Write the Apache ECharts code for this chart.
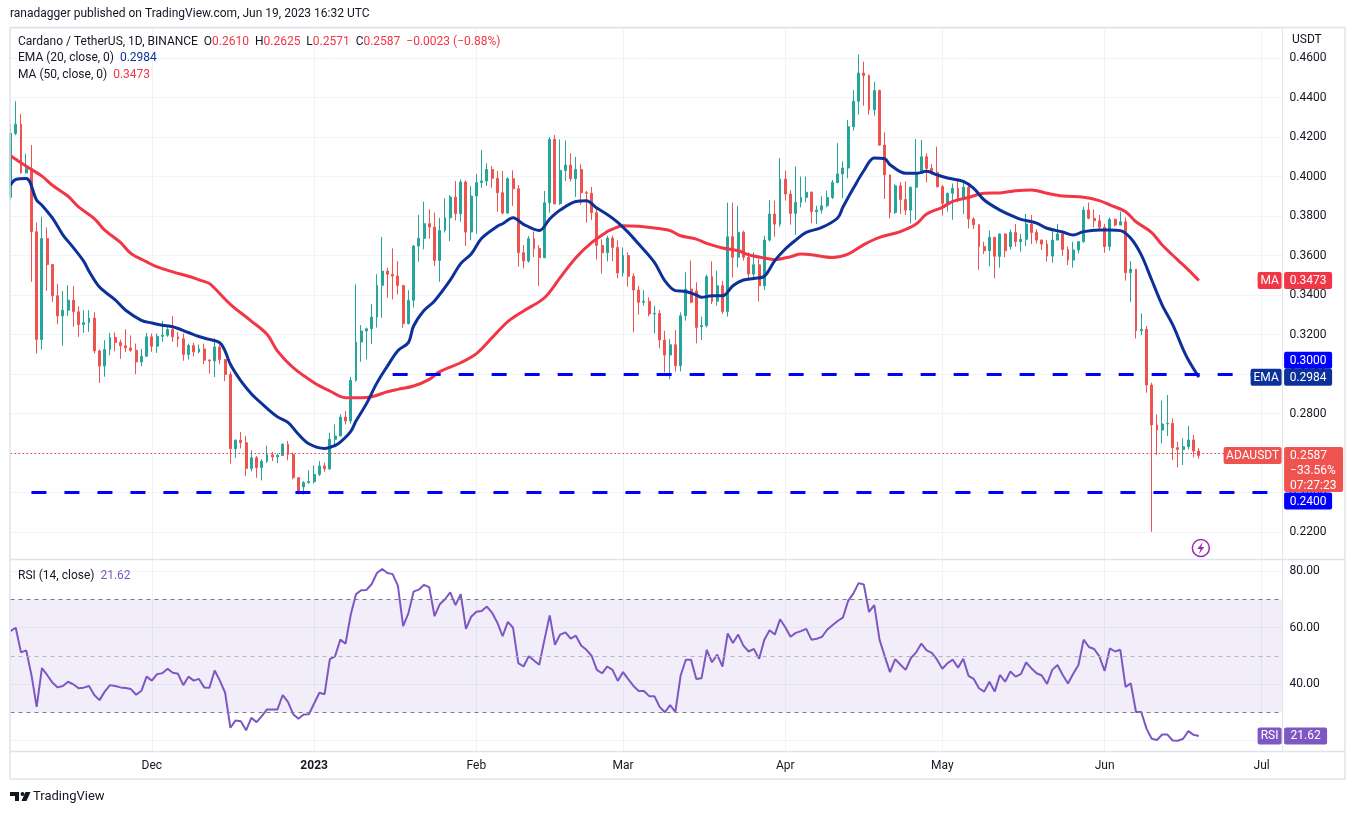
<!DOCTYPE html>
<html><head><meta charset="utf-8">
<script src="https://cdn.jsdelivr.net/npm/echarts@6/dist/echarts.min.js"></script>
<style>html,body{margin:0;padding:0;background:#fff}#c{width:1355px;height:814px}</style>
</head><body><div id="c"></div><script>
// ---------------- data ----------------
const firstDay = [2022, 10, 4];   // 2022-11-04 (UTC, month 0-based)
const axisDays = 244;             // category slots on the time axis (to 2023-07-05)

const open = [
.3894,.4218,.4265,.4018,.4040,.3720,.3175,.3686,.3554,.3396,
.3294,.3323,.3374,.3315,.3250,.3260,.3283,.3117,.3040,.3124,
.3185,.3160,.3143,.3132,.3120,.3061,.3090,.3188,.3141,.3191,
.3196,.3225,.3188,.3178,.3099,.3144,.3112,.3127,.3070,.3066,
.3137,.3073,.2998,.2622,.2664,.2652,.2522,.2576,.2526,.2558,
.2590,.2580,.2588,.2644,.2593,.2475,.2428,.2450,.2455,.2492,
.2534,.2520,.2669,.2686,.2782,.2762,.2968,.3162,.3218,.3229,
.3288,.3449,.3521,.3505,.3496,.3448,.3255,.3373,.3648,.3687,
.3761,.3744,.3575,.3727,.3791,.3896,.3812,.3972,.3719,.3901,
.3969,.3977,.4036,.3991,.3918,.3815,.3989,.3938,.3614,.3572,
.3685,.3635,.3589,.3867,.4188,.3862,.4031,.4058,.3989,.4036,
.3918,.3915,.3817,.3651,.3614,.3688,.3641,.3512,.3600,.3495,
.3425,.3363,.3368,.3304,.3307,.3172,.3096,.3148,.3042,.3295,
.3430,.3420,.3239,.3245,.3493,.3368,.3447,.3317,.3695,.3591,
.3717,.3591,.3506,.3553,.3447,.3678,.3810,.3759,.3987,.3911,
.3813,.3869,.3894,.3920,.3822,.3830,.3852,.3894,.3970,.4013,
.4043,.4252,.4381,.4524,.4511,.4338,.4435,.4159,.4008,.3818,
.3953,.3883,.3830,.3945,.4016,.4100,.4041,.4021,.3948,.3864,
.3915,.3940,.3886,.3945,.3785,.3756,.3645,.3624,.3692,.3596,
.3709,.3645,.3716,.3670,.3682,.3759,.3716,.3678,.3658,.3597,
.3678,.3709,.3631,.3577,.3628,.3670,.3830,.3788,.3776,.3743,
.3645,.3783,.3754,.3771,.3513,.3530,.3219,.3226,.2944,.2742,
.2716,.2747,.2750,.2627,.2618,.2632,.2666,.2610];
const close = [
.4218,.4265,.4018,.4040,.3720,.3175,.3686,.3554,.3396,.3294,
.3323,.3374,.3315,.3250,.3260,.3283,.3117,.3040,.3124,.3185,
.3160,.3143,.3132,.3120,.3061,.3090,.3188,.3141,.3191,.3196,
.3225,.3188,.3178,.3099,.3144,.3112,.3127,.3070,.3066,.3137,
.3073,.2998,.2622,.2664,.2652,.2522,.2576,.2526,.2558,.2590,
.2580,.2588,.2644,.2593,.2475,.2400,.2450,.2455,.2492,.2534,
.2520,.2669,.2686,.2782,.2762,.2968,.3162,.3218,.3229,.3288,
.3449,.3521,.3505,.3496,.3448,.3255,.3373,.3648,.3687,.3761,
.3744,.3575,.3727,.3791,.3896,.3812,.3972,.3719,.3901,.3969,
.3977,.4036,.3991,.3918,.3815,.3989,.3938,.3614,.3572,.3685,
.3635,.3589,.3867,.4188,.3862,.4031,.4058,.3989,.4036,.3918,
.3915,.3817,.3651,.3614,.3688,.3641,.3512,.3600,.3495,.3425,
.3363,.3368,.3304,.3307,.3172,.3096,.3148,.3042,.3295,.3430,
.3363,.3236,.3245,.3493,.3368,.3447,.3317,.3695,.3591,.3717,
.3591,.3506,.3553,.3447,.3678,.3810,.3759,.3987,.3911,.3813,
.3869,.3894,.3920,.3822,.3830,.3852,.3894,.3970,.4013,.4043,
.4252,.4381,.4524,.4511,.4338,.4435,.4159,.4008,.3818,.3953,
.3883,.3830,.3945,.4016,.4100,.4041,.4021,.3948,.3864,.3915,
.3940,.3886,.3945,.3785,.3756,.3645,.3624,.3692,.3596,.3709,
.3624,.3716,.3670,.3682,.3759,.3716,.3678,.3658,.3597,.3678,
.3709,.3631,.3577,.3628,.3670,.3830,.3788,.3776,.3743,.3645,
.3783,.3754,.3771,.3513,.3530,.3219,.3226,.2944,.2742,.2716,
.2747,.2750,.2627,.2618,.2632,.2666,.2610,.2587];
const low = [
.3880,.4209,.4015,.4015,.3467,.3104,.3124,.3421,.3365,.3252,
.3143,.3294,.3239,.3188,.3208,.3213,.3104,.2955,.2986,.3095,
.3115,.3077,.3112,.3112,.2999,.3039,.3087,.3112,.3107,.3163,
.3188,.3163,.3137,.3067,.3073,.3090,.3104,.3050,.3002,.2985,
.3049,.2964,.2546,.2576,.2623,.2483,.2507,.2475,.2461,.2550,
.2559,.2549,.2585,.2563,.2467,.2390,.2389,.2444,.2446,.2483,
.2505,.2513,.2635,.2686,.2745,.2748,.2961,.3062,.3074,.3153,
.3235,.3285,.3386,.3378,.3403,.3234,.3251,.3336,.3569,.3631,
.3685,.3547,.3467,.3716,.3673,.3778,.3771,.3648,.3677,.3710,
.3943,.3952,.3943,.3822,.3808,.3812,.3851,.3543,.3535,.3564,
.3592,.3445,.3586,.3817,.3859,.3856,.3977,.3974,.3896,.3856,
.3766,.3780,.3580,.3508,.3570,.3571,.3484,.3493,.3442,.3211,
.3300,.3346,.3292,.3206,.3130,.3008,.2974,.3013,.3013,.3270,
.3358,.3155,.3172,.3236,.3354,.3346,.3304,.3290,.3489,.3540,
.3574,.3484,.3489,.3368,.3425,.3671,.3695,.3746,.3878,.3756,
.3705,.3844,.3869,.3763,.3759,.3813,.3844,.3886,.3965,.3891,
.3991,.4232,.4313,.4359,.4313,.4308,.4156,.3886,.3788,.3810,
.3810,.3805,.3763,.3780,.4013,.3970,.4009,.3945,.3802,.3822,
.3781,.3869,.3810,.3737,.3734,.3528,.3607,.3545,.3484,.3538,
.3591,.3631,.3645,.3619,.3648,.3658,.3661,.3628,.3569,.3564,
.3678,.3597,.3552,.3538,.3611,.3665,.3783,.3743,.3726,.3614,
.3624,.3749,.3754,.3473,.3366,.3180,.3197,.2905,.2201,.2590,
.2649,.2686,.2564,.2527,.2539,.2618,.2578,.2571];
const high = [
.4268,.4381,.4316,.4116,.4159,.3767,.3796,.3742,.3556,.3455,
.3420,.3450,.3445,.3343,.3323,.3323,.3313,.3124,.3171,.3208,
.3210,.3174,.3227,.3195,.3154,.3127,.3208,.3205,.3205,.3269,
.3247,.3293,.3213,.3205,.3154,.3158,.3150,.3154,.3075,.3180,
.3150,.3076,.3012,.2669,.2706,.2686,.2613,.2585,.2568,.2637,
.2605,.2597,.2649,.2661,.2602,.2478,.2458,.2512,.2537,.2559,
.2551,.2703,.2745,.2796,.2812,.2985,.3454,.3248,.3235,.3353,
.3505,.3694,.3538,.3636,.3572,.3451,.3424,.3653,.3805,.3873,
.3834,.3817,.3791,.3889,.3906,.3977,.3986,.3981,.3952,.4014,
.4134,.4067,.4053,.4028,.4028,.3997,.4031,.3957,.3653,.3699,
.3721,.3653,.3927,.4200,.4210,.4188,.4183,.4117,.4099,.4062,
.3927,.3947,.3842,.3682,.3700,.3700,.3678,.3641,.3616,.3510,
.3447,.3425,.3388,.3346,.3324,.3219,.3177,.3222,.3312,.3515,
.3575,.3464,.3290,.3503,.3570,.3523,.3472,.3868,.3868,.3852,
.3726,.3616,.3616,.3582,.3700,.3881,.3878,.4094,.4029,.3932,
.4050,.4000,.4000,.3925,.3852,.3900,.3928,.3982,.4169,.4077,
.4286,.4438,.4617,.4581,.4516,.4480,.4440,.4224,.4010,.3962,
.3970,.3975,.3950,.4190,.4185,.4117,.4063,.4151,.3957,.3918,
.3965,.3982,.3970,.3965,.3793,.3759,.3670,.3726,.3695,.3712,
.3712,.3732,.3759,.3709,.3810,.3805,.3732,.3682,.3678,.3732,
.3759,.3712,.3645,.3670,.3673,.3847,.3868,.3834,.3805,.3760,
.3793,.3788,.3822,.3793,.3572,.3530,.3307,.3243,.2956,.2796,
.2865,.2894,.2775,.2657,.2674,.2737,.2691,.2625];

const rsi = [
58.7,59.9,51.2,51.9,43.2,31.9,45.6,43.2,40.5,38.8,
39.3,40.8,39.9,38.5,38.7,39.3,36.1,34.3,37.3,39.6,
39.3,38.8,38.6,38.2,36.2,37.6,42.6,41.2,43.5,43.8,
45.4,44.0,43.6,39.6,42.6,41.2,41.8,38.8,38.7,44.8,
41.2,36.9,24.5,27.1,26.8,23.6,28.0,26.5,28.6,31.0,
31.0,31.0,36.1,33.7,29.3,27.7,29.2,29.3,33.1,36.9,
36.4,48.8,49.8,55.7,54.3,64.6,71.8,73.2,73.3,75.4,
79.3,80.7,79.3,78.9,74.8,60.5,65.0,72.7,73.4,75.1,
74.2,64.0,68.2,70.0,72.4,67.9,71.8,59.5,63.8,65.6,
65.8,67.4,65.2,61.7,56.9,62.0,59.9,47.4,46.2,49.8,
48.3,46.8,55.7,64.3,53.9,57.5,58.3,56.1,57.1,53.6,
52.1,50.0,45.0,43.8,46.2,45.0,41.1,44.2,41.7,39.3,
37.5,37.5,35.7,35.7,31.9,30.0,32.5,30.1,42.9,48.6,
48.6,41.8,42.0,52.1,47.7,50.4,46.2,57.9,54.5,57.5,
53.6,51.5,52.4,48.9,55.7,59.0,57.5,62.9,60.1,56.7,
58.1,58.7,59.5,55.7,56.0,56.7,59.2,60.8,62.3,63.5,
69.4,72.0,75.7,75.2,65.5,67.9,55.7,49.8,44.2,48.8,
46.8,45.0,49.2,51.2,54.3,51.9,51.0,48.6,45.4,47.4,
48.6,45.8,48.9,42.9,41.8,38.5,37.3,40.8,37.3,43.2,
40.8,44.4,42.6,43.5,47.6,45.6,43.8,43.0,40.0,45.0,
46.7,43.2,40.2,43.6,46.7,55.7,53.1,52.4,49.8,44.6,
52.6,51.5,52.1,39.0,40.2,30.1,30.1,24.2,20.6,20.2,
22.1,22.1,20.0,19.9,20.6,23.3,22.0,21.62];

// EMA(20) and MA(50) read at sampled days (day index from first candle)
const emaDays = [0,1,3,5,6,8,10,12,14,15,17,20,22,25,27,29,31,34,36,38,40,41,42,44,46,48,51,53,55,57,60,62,63,65,66,68,70,72,74,76,77,79,81,84,86,88,90,93,94,96,98,101,103,105,108,110,112,114,116,118,120,123,125,127,129,131,132,134,136,138,140,142,144,146,148,150,152,155,158,159,161,163,165,167,168,171,173,175,177,179,182,184,186,189,191,193,196,198,201,203,205,208,210,212,214,216,218,220,222,224,225,227];
const emaVals = [0.3956,0.3985,0.3990,0.3880,0.3855,0.3790,0.3705,0.3640,0.3570,0.3520,0.3440,0.3375,0.3323,0.3272,0.3258,0.3247,0.3239,0.3210,0.3190,0.3175,0.3158,0.3116,0.3049,0.2965,0.2900,0.2850,0.2783,0.2755,0.2695,0.2647,0.2623,0.2638,0.2655,0.2710,0.2762,0.2850,0.2955,0.3040,0.3118,0.3159,0.3243,0.3322,0.3370,0.3475,0.3559,0.3608,0.3687,0.3748,0.3761,0.3791,0.3758,0.3727,0.3785,0.3830,0.3873,0.3877,0.3840,0.3808,0.3768,0.3717,0.3658,0.3565,0.3472,0.3422,0.3418,0.3400,0.3388,0.3396,0.3396,0.3447,0.3476,0.3484,0.3495,0.3574,0.3633,0.3678,0.3717,0.3742,0.3790,0.3844,0.3940,0.4029,0.4094,0.4090,0.4060,0.4016,0.4016,0.4026,0.4008,0.3992,0.3975,0.3940,0.3881,0.3830,0.3805,0.3783,0.3764,0.3738,0.3719,0.3704,0.3721,0.3729,0.3729,0.3726,0.3687,0.3603,0.3476,0.3349,0.3250,0.3125,0.3071,0.2984];
const maDays = [0,2,4,6,8,11,13,16,18,21,23,26,28,31,34,36,38,39,42,46,49,51,54,58,61,64,67,69,72,74,77,80,82,86,89,92,95,98,102,105,108,111,114,115,117,120,123,126,128,131,133,136,139,141,144,146,149,151,153,157,160,163,166,170,173,175,178,180,183,186,189,192,195,198,201,205,208,210,213,215,218,220,223,225,227];
const maVals = [0.4105,0.4069,0.4035,0.4002,0.3956,0.3900,0.3846,0.3787,0.3728,0.3666,0.3610,0.3568,0.3542,0.3517,0.3495,0.3477,0.3458,0.3434,0.3353,0.3268,0.3201,0.3116,0.3032,0.2956,0.2914,0.2880,0.2880,0.2885,0.2910,0.2922,0.2939,0.2973,0.3012,0.3057,0.3103,0.3184,0.3265,0.3319,0.3386,0.3488,0.3589,0.3665,0.3721,0.3734,0.3751,0.3748,0.3739,0.3726,0.3700,0.3683,0.3661,0.3638,0.3624,0.3604,0.3587,0.3579,0.3594,0.3607,0.3604,0.3590,0.3607,0.3655,0.3692,0.3721,0.3759,0.3810,0.3844,0.3874,0.3894,0.3915,0.3917,0.3928,0.3932,0.3915,0.3901,0.3895,0.3878,0.3856,0.3822,0.3771,0.3716,0.3653,0.3577,0.3527,0.3473];

// drawn horizontal levels: [value, first day index]
const levelValues = [0.30, 0.24];
const levelStartDays = [73, 4];

// axis ticks
const priceStep = 0.02;
const rsiStep = 20;
const rsiTickLabels = [40, 60, 80];
const monthNames = ['Jan','Feb','Mar','Apr','May','Jun','Jul','Aug','Sep','Oct','Nov','Dec'];

// texts
const headerText = 'ranadagger published on TradingView.com, Jun 19, 2023 16:32 UTC';
const symbolText = 'Cardano / TetherUS, 1D, BINANCE';
const tagChangeText = '\u221233.56%';
const tagTimerText = '07:27:23';

// ---------------- layout ----------------
const FONT = 'Roboto, "Noto Sans", sans-serif';
const TXT = '#131722';
const GRIDC = '#f0f3fa';
const BORDER = '#e0e3eb';
const UP = '#26a69a', DOWN = '#ef5350';
const EMA_C = '#0c3299', MA_C = '#f23645', LVL_C = '#0000ff', RSI_C = '#7e57c2';
const slot = 5.235;
const GRID_LEFT = 10.5;
const PLOT_RIGHT = GRID_LEFT + (axisDays - 1) * slot;
const GRID_RIGHT = 1355 - PLOT_RIGHT;
const MAIN_TOP = 28, MAIN_BOTTOM = 559, RSI_TOP = 559, RSI_BOTTOM = 751;
// scale calibration (two gridlines of each pane)
const pA = [58, 0.46], pB = [532, 0.22];
const pK = (pA[1] - pB[1]) / (pB[0] - pA[0]);
const PRICE_MAX = pA[1] + (pA[0] - MAIN_TOP) * pK;
const PRICE_MIN = pB[1] - (MAIN_BOTTOM - pB[0]) * pK;
const rA = [571, 80], rB = [684, 40];
const rK = (rA[1] - rB[1]) / (rB[0] - rA[0]);
const RSI_MAX = rA[1] + (rA[0] - RSI_TOP) * rK;
const RSI_MIN = rB[1] - (RSI_BOTTOM - rB[0]) * rK;

// ---------------- build ----------------
const dates = [];
for (let i = 0; i < axisDays; i++) {
  const d = new Date(Date.UTC(firstDay[0], firstDay[1], firstDay[2] + i));
  dates.push(d.toISOString().slice(0, 10));
}
const candles = open.map((o, i) => [o, close[i], low[i], high[i]]);
const last = close.length - 1;
const lastClose = close[last];
const chg = lastClose - close[last - 1];
const chgPct = chg / close[last - 1] * 100;
const fmtSigned = (v, d) => (v < 0 ? '\u2212' : '+') + Math.abs(v).toFixed(d);
const isMonthStart = (i, v) => typeof v === 'string' && v.slice(8, 10) === '01';
const monthLabel = v => {
  const m = +v.slice(5, 7);
  return m === 1 ? '{b|' + v.slice(0, 4) + '}' : monthNames[m - 1];
};
const onStep = (v, s) => Math.abs(v / s - Math.round(v / s)) < 1e-6;

const chart = echarts.init(document.getElementById('c'), null, {renderer: 'canvas'});
const option = {
  animation: false,
  backgroundColor: '#ffffff',
  textStyle: {fontFamily: FONT},
  grid: [
    {left: GRID_LEFT, right: GRID_RIGHT, top: MAIN_TOP, bottom: 814 - MAIN_BOTTOM},
    {left: GRID_LEFT, right: GRID_RIGHT, top: RSI_TOP, bottom: 814 - RSI_BOTTOM}
  ],
  xAxis: [
    {type: 'category', gridIndex: 0, data: dates, boundaryGap: false,
     axisLine: {show: false}, axisTick: {show: false}, axisLabel: {show: false},
     splitLine: {show: true, interval: isMonthStart, lineStyle: {color: GRIDC, width: 1}}},
    {type: 'category', gridIndex: 1, data: dates, boundaryGap: false,
     axisLine: {show: false}, axisTick: {show: false},
     axisLabel: {interval: isMonthStart, formatter: monthLabel, color: TXT, fontSize: 12, margin: 9,
                 fontFamily: FONT, rich: {b: {fontWeight: 'bold', fontSize: 12, color: TXT, fontFamily: FONT}}},
     splitLine: {show: true, interval: isMonthStart, lineStyle: {color: GRIDC, width: 1}}}
  ],
  yAxis: [
    {type: 'value', gridIndex: 0, position: 'right', min: PRICE_MIN, max: PRICE_MAX,
     minInterval: priceStep, maxInterval: priceStep, splitNumber: 13,
     axisLine: {show: false}, axisTick: {show: false},
     splitLine: {show: true, lineStyle: {color: GRIDC, width: 1}},
     axisLabel: {color: TXT, fontSize: 12, margin: 7, fontFamily: FONT, showMinLabel: false, showMaxLabel: false,
                 formatter: v => onStep(v, priceStep) ? v.toFixed(4) : ''}},
    {type: 'value', gridIndex: 1, position: 'right', min: RSI_MIN, max: RSI_MAX,
     minInterval: rsiStep, maxInterval: rsiStep, splitNumber: 3,
     axisLine: {show: false}, axisTick: {show: false},
     splitLine: {show: true, lineStyle: {color: GRIDC, width: 1}},
     axisLabel: {color: TXT, fontSize: 12, margin: 7, fontFamily: FONT, showMinLabel: false, showMaxLabel: false,
                 formatter: v => (onStep(v, rsiStep) && rsiTickLabels.indexOf(Math.round(v)) >= 0) ? v.toFixed(2) : ''}}
  ],
  series: [
    {type: 'candlestick', xAxisIndex: 0, yAxisIndex: 0, data: candles, barWidth: 2.4, clip: true,
     itemStyle: {color: UP, color0: DOWN, borderColor: UP, borderColor0: DOWN, borderWidth: 1},
     markLine: {silent: true, symbol: 'none', animation: false, label: {show: false}, z: 6,
       lineStyle: {color: LVL_C, width: 3, type: [15, 18]},
       data: [
         [{coord: [levelStartDays[0], levelValues[0]]}, {coord: [axisDays - 1, levelValues[0]]}],
         [{coord: [levelStartDays[1], levelValues[1]]}, {coord: [axisDays - 1, levelValues[1]]}],
         {yAxis: lastClose, lineStyle: {color: '#f23645', width: 1.2, type: [1.5, 2.5], opacity: 1}}
       ]}},
    {type: 'line', name: 'MA', xAxisIndex: 0, yAxisIndex: 0, data: maDays.map((d, i) => [d, maVals[i]]),
     smooth: 0.35, symbol: 'none', lineStyle: {color: MA_C, width: 3}, z: 3},
    {type: 'line', name: 'EMA', xAxisIndex: 0, yAxisIndex: 0, data: emaDays.map((d, i) => [d, emaVals[i]]),
     smooth: 0.35, symbol: 'none', lineStyle: {color: EMA_C, width: 3}, z: 3},
    {type: 'line', name: 'RSI', xAxisIndex: 1, yAxisIndex: 1, data: rsi, symbol: 'none',
     lineStyle: {color: RSI_C, width: 2}, z: 3,
     markArea: {silent: true, itemStyle: {color: 'rgba(126,87,194,0.1)'}, data: [[{yAxis: 30}, {yAxis: 70}]]},
     markLine: {silent: true, symbol: 'none', label: {show: false}, animation: false,
       lineStyle: {color: '#787b86', width: 1, type: [4, 4]},
       data: [{yAxis: 70}, {yAxis: 50, lineStyle: {color: '#b2b5be', width: 1, type: [4, 4]}}, {yAxis: 30}]}}
  ]
};
chart.setOption(option);

// ---------------- overlays positioned through the scales ----------------
const yP = v => chart.convertToPixel({yAxisIndex: 0}, v);
const yR = v => chart.convertToPixel({yAxisIndex: 1}, v);
const xLast = chart.convertToPixel({xAxisIndex: 0}, last);
const font12 = '12px ' + FONT;
function txt(text, x, y, fill, align, font) {
  return {type: 'text', z: 101, style: {text, x, y, fill, font: font || font12,
          align: align || 'left', textAlign: align || 'left', verticalAlign: 'middle', textVerticalAlign: 'middle'}};
}
function box(x, yc, w, bg, text, h) {
  h = h || 17;
  return [
    {type: 'rect', z: 100, shape: {x, y: yc - h / 2, width: w, height: h, r: 2}, style: {fill: bg}},
    txt(text, x + w / 2, yc + 0.5, '#ffffff', 'center')
  ];
}
const AX = PLOT_RIGHT + 1.5, AW = 48;
const yMA = yP(maVals[maVals.length - 1]);
const yEMA = yP(emaVals[emaVals.length - 1]);
const yRes = Math.min(yP(levelValues[0]), yEMA - 17);
const yPx = yP(lastClose);
const bigTop = yPx - 8.5, bigH = 45;
const ySup = Math.max(yP(levelValues[1]), bigTop + bigH + 9);
const yRsi = yR(rsi[last]);

const g = [];
// frame & separators
g.push({type: 'rect', z: 99, shape: {x: 10, y: 27.5, width: 1335, height: 751.5}, style: {fill: 'none', stroke: BORDER, lineWidth: 1.5}});
g.push({type: 'line', z: 99, shape: {x1: 10, y1: MAIN_BOTTOM + 0.5, x2: 1345, y2: MAIN_BOTTOM + 0.5}, style: {stroke: BORDER, lineWidth: 1.5}});
g.push({type: 'line', z: 99, shape: {x1: 10, y1: RSI_BOTTOM + 0.5, x2: 1345, y2: RSI_BOTTOM + 0.5}, style: {stroke: BORDER, lineWidth: 1.5}});
g.push({type: 'line', z: 99, shape: {x1: PLOT_RIGHT, y1: 28, x2: PLOT_RIGHT, y2: RSI_BOTTOM}, style: {stroke: BORDER, lineWidth: 1}});
// header & legends
g.push(txt(headerText, 10, 14, TXT));
g.push({type: 'text', z: 101, style: {
  text: '{d|' + symbolText + '}  {d|O}{r|' + open[last].toFixed(4) + '}  {d|H}{r|' + high[last].toFixed(4) +
        '}  {d|L}{r|' + low[last].toFixed(4) + '}  {d|C}{r|' + lastClose.toFixed(4) + '}  {r|' +
        fmtSigned(chg, 4) + ' (' + fmtSigned(chgPct, 2) + '%)}',
  x: 18, y: 42, font: font12, fill: TXT, verticalAlign: 'middle', textVerticalAlign: 'middle',
  rich: {d: {fill: TXT, color: TXT, font: font12}, r: {fill: MA_C, color: MA_C, font: font12}}}});
g.push({type: 'text', z: 101, style: {
  text: '{d|EMA (20, close, 0)}  {v|' + emaVals[emaVals.length - 1].toFixed(4) + '}',
  x: 18, y: 58, font: font12, fill: TXT, verticalAlign: 'middle', textVerticalAlign: 'middle',
  rich: {d: {fill: TXT, color: TXT, font: font12}, v: {fill: EMA_C, color: EMA_C, font: font12}}}});
g.push({type: 'text', z: 101, style: {
  text: '{d|MA (50, close, 0)}  {v|' + maVals[maVals.length - 1].toFixed(4) + '}',
  x: 18, y: 75, font: font12, fill: TXT, verticalAlign: 'middle', textVerticalAlign: 'middle',
  rich: {d: {fill: TXT, color: TXT, font: font12}, v: {fill: MA_C, color: MA_C, font: font12}}}});
g.push({type: 'text', z: 101, style: {
  text: '{d|RSI (14, close)}  {v|' + rsi[last].toFixed(2) + '}',
  x: 18, y: 576, font: font12, fill: TXT, verticalAlign: 'middle', textVerticalAlign: 'middle',
  rich: {d: {fill: TXT, color: TXT, font: font12}, v: {fill: RSI_C, color: RSI_C, font: font12}}}});
g.push(txt('USDT', 1292, 40, TXT));
// price-scale tags
g.push(...box(PLOT_RIGHT - 25, yMA, 24, MA_C, 'MA'));
g.push(...box(AX, yMA, AW, MA_C, maVals[maVals.length - 1].toFixed(4)));
g.push(...box(AX, yRes, AW, LVL_C, levelValues[0].toFixed(4)));
g.push(...box(PLOT_RIGHT - 32, yEMA, 31, EMA_C, 'EMA'));
g.push(...box(AX, yEMA, AW, EMA_C, emaVals[emaVals.length - 1].toFixed(4)));
g.push(...box(PLOT_RIGHT - 59, yPx, 58, DOWN, 'ADAUSDT'));
g.push({type: 'rect', z: 100, shape: {x: AX, y: bigTop, width: 59, height: bigH, r: 2}, style: {fill: DOWN}});
g.push(txt(lastClose.toFixed(4), AX + 6, yPx + 0.5, '#ffffff'));
g.push(txt(tagChangeText, AX + 6, yPx + 15.5, '#ffffff'));
g.push(txt(tagTimerText, AX + 6, yPx + 30.5, '#ffffff'));
g.push(...box(AX, ySup, AW, LVL_C, levelValues[1].toFixed(4)));
g.push(...box(PLOT_RIGHT - 25, yRsi, 24, RSI_C, 'RSI'));
g.push(...box(AX, yRsi, 43, RSI_C, rsi[last].toFixed(2)));
// lightning marker
g.push({type: 'circle', z: 101, shape: {cx: xLast + 2, cy: 548, r: 8.5}, style: {fill: '#fff', stroke: '#9c27b0', lineWidth: 1.5}});
g.push({type: 'polygon', z: 102, shape: {points: [[xLast + 4, 542], [xLast - 1.5, 549], [xLast + 1.8, 549], [xLast, 554], [xLast + 5.5, 547], [xLast + 2.2, 547]]}, style: {fill: '#9c27b0'}});
// TradingView logo
g.push({type: 'polygon', z: 101, shape: {points: [[10, 792], [19, 792], [19, 801], [15, 801], [15, 796], [10, 796]]}, style: {fill: TXT}});
g.push({type: 'circle', z: 101, shape: {cx: 22.5, cy: 794, r: 2}, style: {fill: TXT}});
g.push({type: 'polygon', z: 101, shape: {points: [[25.5, 792], [30.5, 792], [26.5, 801], [21.5, 801]]}, style: {fill: TXT}});
g.push(txt('TradingView', 33, 797, TXT, 'left', '13px ' + FONT));

chart.setOption({graphic: g});
</script></body></html>
